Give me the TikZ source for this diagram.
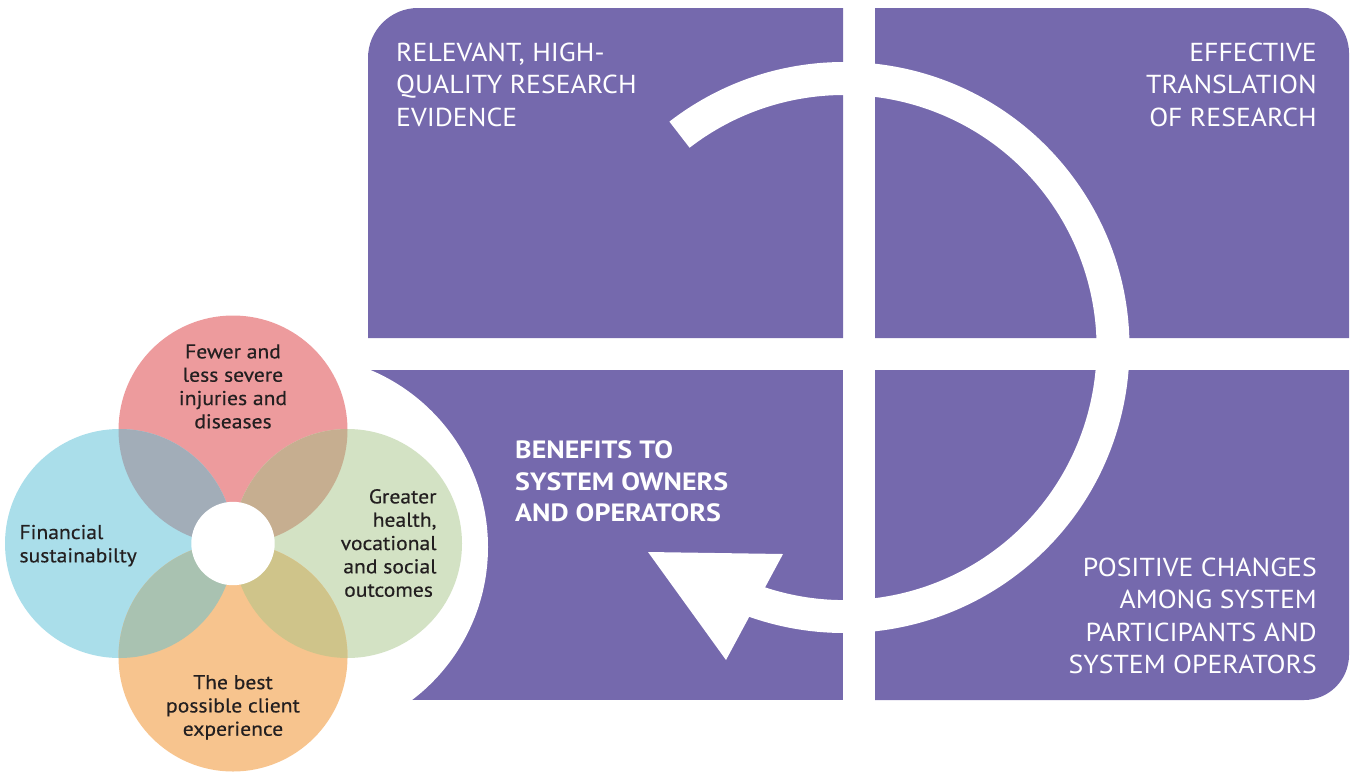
\documentclass[tikz,border=0pt]{standalone}
\usepackage{fontspec}
\setmainfont{PT Sans}
\newfontfamily\panelfont{PT Sans}[FakeStretch=1.066]
\newfontfamily\headfont{PT Sans Bold}[FakeStretch=1.12]
\newfontfamily\petalfont{PT Sans}[FakeStretch=1.08,FakeBold=0.4]
\usetikzlibrary{calc}
\definecolor{panelpurple}{HTML}{7569AD}
\definecolor{petalpink}{HTML}{ED9B9D}
\definecolor{petalblue}{HTML}{AADEEA}
\definecolor{petalgreen}{HTML}{D3E2C4}
\definecolor{petalorange}{HTML}{F7C48E}
\definecolor{lenspb}{HTML}{A2ADB8}
\definecolor{lenspg}{HTML}{C6AE90}
\definecolor{lensog}{HTML}{CFC48A}
\definecolor{lensob}{HTML}{A9C2B1}
\definecolor{darktext}{HTML}{231F20}
\begin{document}
\begin{tikzpicture}[x=1pt,y=-1pt,
  panel/.style={fill=panelpurple},
  paneltext/.style={text=white,inner sep=0pt,font=\panelfont\fontsize{26}{32.3}\selectfont},
  boldtext/.style={text=white,inner sep=0pt,font=\headfont\fontsize{25}{31.7}\selectfont},
  petaltext/.style={text=darktext,inner sep=0pt,font=\petalfont\fontsize{20}{23.3}\selectfont}]
\useasboundingbox (0,0) rectangle (1351,772);

% four quadrant panels
\fill[panel] (368,338) -- (368,58) arc[start angle=180,end angle=270,radius=50] -- (843,8) -- (843,338) -- cycle;
\fill[panel] (875,8) -- (1304,8) arc[start angle=270,end angle=360,radius=45] -- (1349,338) -- (875,338) -- cycle;
\fill[panel] (875,370) -- (1349,370) -- (1349,655) arc[start angle=0,end angle=90,radius=45] -- (875,700) -- cycle;
\fill[panel] (368,370) rectangle (843,700);
% white disk cutting the lower-left panel
\fill[white] (296,547) circle[radius=192];

% circular white arrow
\coordinate (ringc) at (844,347.5);
\fill[white] ([shift={(-127.7:285.5)}]ringc) arc[start angle=-127.7,end angle=110,radius=285.5]
  -- ([shift={(110:252.5)}]ringc) arc[start angle=110,end angle=-127.7,radius=252.5] -- cycle;
\fill[white] (648,552) -- (783,554) -- (726,660) -- cycle;

% flower of outcomes
\coordinate (fc) at (233,543.5);
\coordinate (ptop) at (233,430);
\coordinate (pright) at (347.5,543.5);
\coordinate (pbottom) at (233,657);
\coordinate (pleft) at (119.5,543.5);
\fill[petalpink] (ptop) circle[radius=114.5];
\fill[petalblue] (pleft) circle[radius=114.5];
\fill[petalgreen] (pright) circle[radius=114.5];
\fill[petalorange] (pbottom) circle[radius=114.5];
\begin{scope}
  \clip (ptop) circle[radius=114.5];
  \fill[lenspb] (pleft) circle[radius=114.5];
  \fill[lenspg] (pright) circle[radius=114.5];
\end{scope}
\begin{scope}
  \clip (pbottom) circle[radius=114.5];
  \fill[lensob] (pleft) circle[radius=114.5];
  \fill[lensog] (pright) circle[radius=114.5];
\end{scope}
\fill[white] (fc) circle[radius=41.7];

% panel labels (anchored at the baseline of their last line)
\node[paneltext,anchor=base west,align=left] (tl) at (396,126) {RELEVANT, HIGH-\\QUALITY RESEARCH\\EVIDENCE};
\node[paneltext,anchor=base east,align=right] (tr) at (1317,126) {EFFECTIVE\\TRANSLATION\\OF RESEARCH};
\node[paneltext,anchor=base east,align=right] (br) at (1317,673.3) {POSITIVE CHANGES\\AMONG SYSTEM\\PARTICIPANTS AND\\SYSTEM OPERATORS};
\node[boldtext,anchor=base west,align=left] (bl) at (515,521.7) {BENEFITS TO\\SYSTEM OWNERS\\AND OPERATORS};

% petal labels
\node[petaltext,anchor=base,align=center] (tpink) at (233,428.3) {Fewer and\\less severe\\injuries and\\diseases};
\node[petaltext,anchor=base east,align=right] (tgreen) at (436.7,573.3) {Greater\\health,\\vocational\\and social};
\node[petaltext,anchor=base west] (tgreen2) at (344,596.7) {outcomes};
\node[petaltext,anchor=base west,align=left] (tblue) at (19.3,562.3) {Financial\\sustainabilty};
\node[petaltext,anchor=base,align=center] (torange) at (233,735.7) {The best\\possible client\\experience};
\end{tikzpicture}
\end{document}
